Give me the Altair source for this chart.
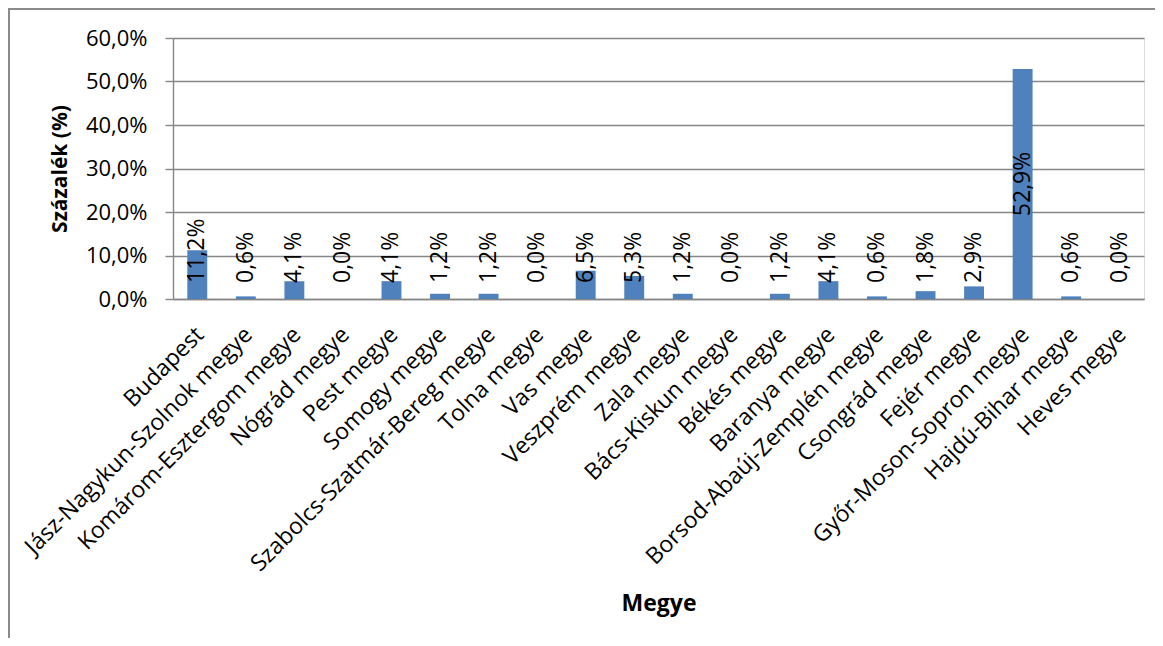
import altair as alt
import pandas as pd

counties = [
    "Budapest", "Jász-Nagykun-Szolnok megye", "Komárom-Esztergom megye",
    "Nógrád megye", "Pest megye", "Somogy megye",
    "Szabolcs-Szatmár-Bereg megye", "Tolna megye", "Vas megye",
    "Veszprém megye", "Zala megye", "Bács-Kiskun megye", "Békés megye",
    "Baranya megye", "Borsod-Abaúj-Zemplén megye", "Csongrád megye",
    "Fejér megye", "Győr-Moson-Sopron megye", "Hajdú-Bihar megye",
    "Heves megye",
]
values = [11.2, 0.6, 4.1, 0.0, 4.1, 1.2, 1.2, 0.0, 6.5, 5.3,
          1.2, 0.0, 1.2, 4.1, 0.6, 1.8, 2.9, 52.9, 0.6, 0.0]
y_ticks = [0, 10, 20, 30, 40, 50, 60]

df = pd.DataFrame({"c": counties, "v": values})

FONT = "Open Sans"
GRID = "#868686"
BAR = "#4F81BD"
W, H = 971, 261

base = alt.Chart(df)

x_enc = alt.X(
    "c:N", sort=counties,
    scale=alt.Scale(paddingInner=0.59, paddingOuter=0.295),
    axis=alt.Axis(
        title="Megye", labelAngle=-45, labelAlign="right", labelBaseline="top",
        labelPadding=24, labelOffset=-5, ticks=False, labelLimit=500,
        labelOverlap=False, labelFont=FONT, labelFontSize=23,
        labelColor="black", domainColor=GRID, domainWidth=1.4,
        titleFont=FONT, titleFontSize=23, titleFontWeight="bold",
        titleColor="black", titleY=304, titleBaseline="middle",
    ),
)
y_enc = alt.Y(
    "v:Q", scale=alt.Scale(domain=[0, 60]),
    axis=alt.Axis(
        title="Százalék (%)", values=y_ticks,
        labelExpr="replace(format(datum.value, '.1f'), '.', ',') + '%'",
        grid=True, gridColor=GRID, gridWidth=1.4,
        tickColor=GRID, tickSize=8, tickWidth=1.4,
        domainColor=GRID, domainWidth=1.4,
        labelFont=FONT, labelFontSize=22, labelColor="black", labelPadding=18,
        titleFont=FONT, titleFontSize=21, titleFontWeight="bold",
        titleColor="black", titlePadding=15,
    ),
)

bars = base.mark_bar(color=BAR).encode(x=x_enc, y=y_enc)

label_expr = "replace(format(datum.v, '.1f'), '.', ',') + '%'"

small_labels = base.transform_filter("datum.v < 20").transform_calculate(
    lbl=label_expr
).mark_text(
    angle=270, align="left", baseline="middle", dx=16,
    font=FONT, fontSize=23, color="black",
).encode(x=alt.X("c:N", sort=counties), y=alt.datum(0), text="lbl:N")

big_labels = base.transform_filter("datum.v >= 20").transform_calculate(
    lbl=label_expr, half="datum.v / 2"
).mark_text(
    angle=270, align="center", baseline="middle",
    font=FONT, fontSize=23, color="black",
).encode(x=alt.X("c:N", sort=counties), y=alt.Y("half:Q"), text="lbl:N")

frame_left = base.mark_rule(color="#8a8a8a", strokeWidth=1.5).encode(
    x=alt.value(-164.5), y=alt.value(-29.5), y2=alt.value(640)
)
frame_top = base.mark_rule(color="#8a8a8a", strokeWidth=1.5).encode(
    x=alt.value(-164.5), x2=alt.value(990), y=alt.value(-29.5)
)

chart = alt.layer(bars, small_labels, big_labels, frame_left, frame_top).properties(
    width=W, height=H,
    autosize=alt.AutoSizeParams(type="none"),
    padding={"left": 165, "top": 30, "right": 11, "bottom": 339},
).configure_view(stroke=None).configure(background="white")

chart.save("out.html", embed_options={"renderer": "svg", "actions": False})
